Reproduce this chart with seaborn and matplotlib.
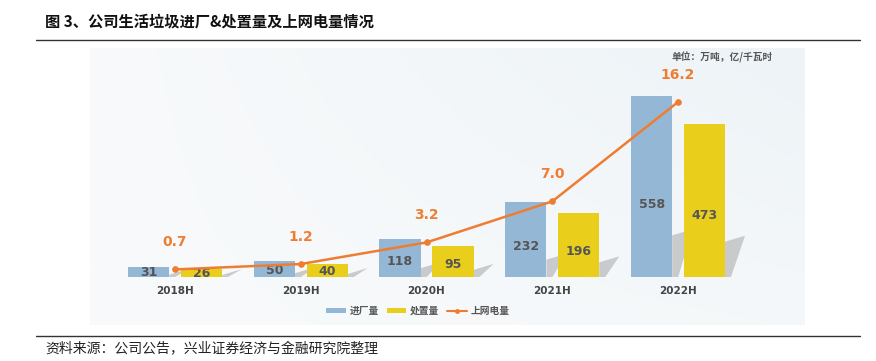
import numpy as np
import pandas as pd
import matplotlib
matplotlib.use("Agg")
import matplotlib.pyplot as plt
from matplotlib.patches import Polygon, Patch
from matplotlib.lines import Line2D
from matplotlib.colors import LinearSegmentedColormap
import seaborn as sns

# ---- data ----
categories = ["2018H", "2019H", "2020H", "2021H", "2022H"]
intake = [31, 50, 118, 232, 558]          # 进厂量 (万吨)
disposal = [26, 40, 95, 196, 473]         # 处置量 (万吨)
grid_power = [0.7, 1.2, 3.2, 7.0, 16.2]   # 上网电量 (亿千瓦时)
series_names = ["进厂量", "处置量"]
line_name = "上网电量"
title = "图 3、公司生活垃圾进厂&处置量及上网电量情况"
unit_text = "单位：万吨，亿/千瓦时"
source_text = "资料来源：公司公告，兴业证券经济与金融研究院整理"

sns.set_theme(style="white")
plt.rcParams["font.family"] = ["Noto Sans CJK SC", "DejaVu Sans"]

BLUE = "#95b7d6"
YELLOW = "#e9cf1b"
ORANGE = "#ef7d31"
DARK = "#555555"

W, H = 876, 361
fig = plt.figure(figsize=(W / 100, H / 100), dpi=100)

# panel (axes) in pixel coords
px_l, px_r, px_t, px_b = 90, 805, 48, 325
ax = fig.add_axes([px_l / W, 1 - px_b / H, (px_r - px_l) / W, (px_b - px_t) / H])

df = pd.DataFrame({
    "cat": categories * 2,
    "val": intake + disposal,
    "series": [series_names[0]] * len(categories) + [series_names[1]] * len(categories),
})

# background gradient
grad = np.linspace(0, 1, 256)[None, :] * np.linspace(0.3, 1, 64)[:, None]
cmap = LinearSegmentedColormap.from_list("bg", ["#f8fafb", "#edf3f7"])
ax.imshow(grad[::-1], extent=[0, 1, 0, 1], transform=ax.transAxes, cmap=cmap,
          aspect="auto", zorder=0)

sns.barplot(data=df, x="cat", y="val", hue="series", order=categories,
            hue_order=series_names, palette=[BLUE, YELLOW], width=0.84, gap=0.22,
            ax=ax, legend=False, zorder=3, saturation=1, linewidth=0,
            edgecolor="none")

# x mapping: category centers at px 175 .. 678
c0, step = 175, (678 - 175) / 4
ax.set_xlim((px_l - c0) / step, (px_r - c0) / step)
base = 277
ppu = (277 - 96) / 558.0
ax.set_ylim(-(px_b - base) / ppu, (base - px_t) / ppu)
ax.set_xticks([]); ax.set_yticks([])
ax.set_xlabel(""); ax.set_ylabel("")
for s in ax.spines.values():
    s.set_visible(False)

# shadows and bar labels
y_per_px = 1 / ppu
x_per_px = 1 / step
for p in list(ax.patches):
    if p.get_height() <= 0:
        continue
    x0, w, h = p.get_x(), p.get_width(), p.get_height()
    hs = h * 0.23
    xr = x0 + w
    sh = Polygon([(xr, 0), (xr, hs), (xr + 20 * x_per_px, hs + 6 * y_per_px),
                  (xr + 6 * x_per_px, 0)],
                 closed=True, facecolor="#c8cacc", edgecolor="none", zorder=2)
    ax.add_patch(sh)
    ax.text(x0 + w / 2, h * 0.4, f"{h:.0f}", ha="center", va="center",
            fontsize=9, fontweight="bold", color=DARK, zorder=5,
            family=["DejaVu Sans"])

# category labels
for i, c in enumerate(categories):
    ax.text(i, -(291 - base) * y_per_px, c, ha="center", va="center",
            fontsize=7.5, fontweight="bold", color="#444444", family=["DejaVu Sans"])

# line on secondary axis
ax2 = ax.twinx()
lppu = (277 - 102) / 16.2
ax2.set_ylim(-(px_b - base) / lppu, (base - px_t) / lppu)
ld = pd.DataFrame({"cat": list(range(len(categories))), "val": grid_power})
sns.lineplot(data=ld, x="cat", y="val", ax=ax2, color=ORANGE, lw=1.8,
             marker="o", markersize=4, markeredgecolor=ORANGE, zorder=6)
ax2.set_xlim(ax.get_xlim())
ax2.set_yticks([]); ax2.set_xlabel(""); ax2.set_ylabel("")
for s in ax2.spines.values():
    s.set_visible(False)
for i, v in enumerate(grid_power):
    ax2.text(i, v + 27 / lppu, f"{v:.1f}", ha="center", va="center",
             fontsize=10, fontweight="bold", color=ORANGE, family=["DejaVu Sans"])

# unit text
fig.text(722 / W, 1 - 57 / H, unit_text, ha="center", va="center",
         fontsize=7, fontweight="bold", color="#555555")

# legend
handles = [Patch(facecolor=BLUE, edgecolor="none"),
           Patch(facecolor=YELLOW, edgecolor="none"),
           Line2D([0], [0], color=ORANGE, lw=1.5, marker="o", markersize=2.5)]
leg = fig.legend(handles, series_names + [line_name], loc="center",
                 bbox_to_anchor=(418 / W, 1 - 311 / H), ncol=3, frameon=False,
                 fontsize=7, handlelength=2.0, handleheight=0.5, columnspacing=0.8,
                 handletextpad=0.4)
for t in leg.get_texts():
    t.set_fontweight("bold"); t.set_color("#555555")

# title, rules, source
fig.text(45 / W, 1 - 22 / H, title, ha="left", va="center", fontsize=11,
         fontweight="bold", color="#111111")
fig.add_artist(Line2D([36 / W, 860 / W], [1 - 40 / H] * 2, color="#333333", lw=1.0))
fig.add_artist(Line2D([36 / W, 860 / W], [1 - 336 / H] * 2, color="#333333", lw=1.0))
fig.text(45 / W, 1 - 349 / H, source_text, ha="left", va="center", fontsize=10,
         color="#222222")

fig.savefig("out.png", dpi=100, facecolor="white")
